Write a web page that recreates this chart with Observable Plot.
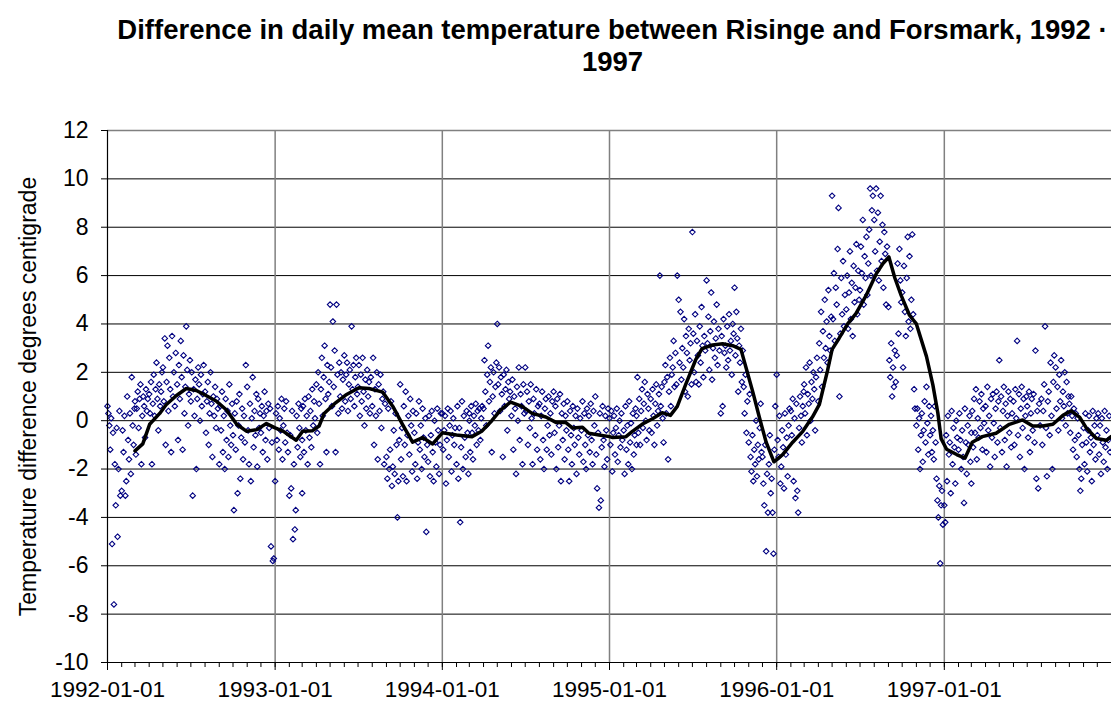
<!DOCTYPE html>
<html><head><meta charset="utf-8">
<script src="https://cdn.jsdelivr.net/npm/d3@7"></script>
<script src="https://cdn.jsdelivr.net/npm/@observablehq/plot@0.6"></script>
<style>
body{margin:0;background:#fff;font-family:"Liberation Sans",Arial,sans-serif;}
#title{width:1111px;height:95px;box-sizing:border-box;padding-top:14px;padding-left:114px;text-align:center;font-weight:bold;font-size:27.5px;line-height:32px;color:#000}
#chart svg{display:block}
</style></head>
<body>
<div id="title"><div>Difference in daily mean temperature between Risinge and Forsmark, 1992 ·</div><div>1997</div></div>
<div id="chart"></div>
<script>
// Daily differences sampled every second day (days 1,3,...,29 of each month), one row per month
const years = [1992, 1993, 1994, 1995, 1996, 1997];
const values1992 = [
 0.6,0.3,-0.2,-1.2,0.1,-5.1,-0.5,-7.6,-1.8,-3.5,-0.3,-4.8,-2.0,0.4,-3.1,
 -2.9,-0.4,-1.3,0.2,-3.1,-2.5,1.0,-0.8,-1.6,0.3,-2.2,1.8,-0.2,-1.0,0.5,
 0.8,-1.4,0.5,1.2,-0.3,0.9,1.5,-1.8,0.2,1.0,0.6,-0.7,1.3,0.4,0.9,
 1.1,0.3,1.6,-1.8,0.7,1.9,0.2,1.3,2.4,0.9,-0.4,1.5,0.6,1.2,2.0,
 2.2,0.8,3.4,-1.0,1.6,3.1,0.4,2.6,1.3,-1.3,3.5,1.0,2.0,0.6,2.8,
 1.5,-0.8,2.3,0.9,3.3,1.8,-1.2,2.7,0.3,1.4,3.9,2.1,-0.2,1.1,2.5,
 0.8,2.0,-3.1,1.3,0.2,1.7,-2.0,0.9,2.2,1.5,0.0,1.9,0.6,1.1,2.3,
 1.2,-0.5,0.8,1.6,-1.0,0.3,2.0,0.7,-1.5,1.0,0.2,1.4,-0.3,0.9,0.5,
 -1.8,0.6,-0.4,1.2,-1.3,0.2,-2.0,0.9,-0.8,0.4,-1.5,1.5,-0.2,-1.0,0.7,
 -0.6,-3.7,0.3,-1.2,0.8,-3.0,-0.2,1.1,-2.4,-0.7,0.5,-1.6,0.2,-0.9,2.3,
 1.4,-0.4,-1.8,0.7,-2.5,0.1,1.8,-1.1,0.4,-0.6,1.1,-1.9,0.9,-0.3,0.3,
 -0.5,0.6,-1.3,0.2,1.2,-0.8,0.4,-1.6,0.7,-0.3,0.5,-5.2,-0.9,-5.8,-5.7
];
const values1993 = [
 -2.5,0.3,-0.8,0.6,-1.2,0.1,-0.4,0.9,-1.6,-0.2,0.5,-0.9,0.8,-0.5,-1.3,
 -3.1,-0.6,-2.8,0.4,-4.9,-1.8,-4.5,-3.7,0.2,-1.1,0.7,-0.3,-1.5,0.5,-0.8,
 -3.0,0.6,-1.3,0.9,-0.4,0.2,-1.8,1.0,-0.7,0.4,-1.1,1.3,-0.2,0.8,0.1,
 1.5,-0.5,2.0,0.7,-1.8,1.3,2.6,0.2,1.8,3.1,0.9,-1.3,2.3,1.1,1.6,
 4.8,2.2,0.6,4.1,1.4,2.9,-1.3,4.8,1.9,0.3,2.4,1.0,2.0,0.5,1.7,
 2.7,0.8,1.9,2.4,0.4,1.5,2.1,0.9,3.9,1.3,2.3,0.6,1.8,2.6,1.1,
 1.4,2.3,0.2,1.9,0.8,2.6,1.2,-0.2,1.7,0.5,2.1,1.0,1.6,0.3,1.8,
 0.6,2.6,-1.0,1.3,0.2,2.0,-1.6,1.5,0.4,1.9,-0.3,0.9,1.2,-1.8,0.7,
 -1.5,-2.4,0.5,-2.0,-1.2,0.8,-2.7,-1.9,-0.4,-2.2,0.3,-1.0,-4.0,-2.5,-0.8,
 1.5,-1.6,-0.3,-2.3,0.6,-1.0,1.2,-2.5,-0.6,0.2,-1.4,0.9,-0.2,-2.1,0.4,
 -0.5,-1.8,0.3,-2.4,-0.9,0.8,-1.2,-0.2,-2.0,0.5,-0.7,-1.5,0.1,-4.6,-1.0,
 -1.7,0.2,-2.3,-0.6,0.4,-1.3,-2.5,0.0,-0.9,-1.9,0.5,-0.4,-2.2,-1.0,0.3
];
const values1994 = [
 0.3,-1.2,-0.4,0.2,-2.6,-0.8,0.5,-1.5,-0.2,0.4,-2.1,-0.6,0.1,-1.0,-0.3,
 -1.8,0.6,-2.4,-0.3,-4.2,-1.1,0.8,-2.0,0.2,-0.7,-1.5,0.4,-0.5,-2.2,0.0,
 0.3,-1.3,0.6,-0.5,-1.6,0.2,-0.2,0.7,-1.0,0.4,-0.4,0.5,-0.8,0.1,0.6,
 0.5,2.5,1.2,-0.2,1.9,3.1,0.8,1.6,2.2,-1.3,1.0,2.0,0.3,1.4,2.4,
 4.0,1.5,2.2,0.4,1.8,1.1,-1.5,1.9,0.6,1.3,2.1,-0.4,1.6,0.9,1.2,
 0.2,1.7,-1.2,1.0,0.5,-2.2,1.4,0.0,2.2,-0.8,1.1,0.6,-1.8,1.5,0.3,
 2.2,0.4,1.2,-1.0,0.8,-0.3,1.5,0.1,-1.8,0.9,0.3,-0.6,1.3,-1.2,0.6,
 0.7,-1.6,0.2,1.2,-0.8,-2.0,0.5,0.9,-1.2,-0.2,1.0,-0.6,0.3,-1.4,0.8,
 1.2,-0.5,0.6,-2.0,0.9,-1.1,-0.2,1.1,-2.5,0.3,-0.8,0.7,-1.6,0.2,-0.4,
 0.8,-1.2,-2.5,0.4,-0.6,-1.8,0.6,-0.3,-1.0,0.2,-2.2,0.5,-0.7,-1.4,0.1,
 -0.4,0.8,-1.7,0.3,-1.0,-2.0,0.5,-0.6,0.2,-1.3,0.7,-0.8,-1.8,0.4,-0.2,
 1.0,-1.4,-2.8,-0.5,-3.6,0.3,-3.3,-1.1,0.6,-0.8,-1.9,0.2,-0.4,-1.6,0.5
];
const values1995 = [
 0.1,-1.0,0.4,-2.1,-0.5,0.2,-1.4,-0.3,0.5,-1.7,-0.6,0.0,-1.1,0.3,-0.8,
 -0.4,-2.2,0.6,-1.2,-0.2,-1.8,0.8,-0.9,-0.1,-2.0,0.3,-1.4,-0.6,0.5,-1.0,
 0.2,1.8,-0.5,0.9,-1.0,0.4,1.3,-0.3,0.7,1.6,0.0,-0.8,1.1,0.5,-0.4,
 0.9,-0.5,1.3,0.2,-1.0,0.7,1.5,-0.2,0.4,1.1,6.0,0.6,1.4,0.1,-0.9,
 1.6,2.3,0.3,1.8,-1.6,1.2,2.6,0.6,1.9,2.2,3.3,1.4,2.8,1.5,6.0,
 5.0,2.4,4.5,1.7,3.0,2.2,4.2,1.2,3.5,2.8,1.0,3.8,2.5,3.2,1.5,
 7.8,3.6,2.0,4.4,1.6,3.3,2.7,1.5,3.9,2.4,4.7,3.1,1.8,3.5,2.9,
 5.8,3.2,4.3,2.1,3.7,5.3,1.7,3.0,4.1,2.6,3.4,4.8,2.3,3.8,2.9,
 0.3,3.5,0.6,4.2,2.8,3.1,2.2,3.9,2.5,4.4,2.9,3.3,1.9,4.0,3.6,
 5.5,2.7,4.5,3.4,1.2,3.1,2.4,3.8,1.6,2.9,1.4,0.3,1.9,-0.5,0.8,
 -0.9,1.1,-1.5,-2.1,-0.6,-2.5,-1.2,-1.8,0.0,-2.3,-1.0,-1.6,-0.3,0.7,-1.3,
 -1.5,-2.6,-3.5,-1.0,-5.4,-2.2,-3.8,-1.8,-0.6,-3.0,-2.4,-3.8,-5.5,-1.2,0.6
];
const values1996 = [
 1.9,-0.8,-1.5,0.2,-2.6,-1.9,-0.4,-1.1,-2.8,0.3,-1.4,-0.7,-2.3,-0.2,0.5,
 0.4,-0.6,0.9,-2.5,0.1,-3.2,0.7,-2.9,-3.8,-0.3,1.0,0.2,-0.9,0.6,1.2,
 1.5,0.3,2.2,-0.6,1.1,0.7,2.4,0.0,1.6,0.9,2.0,1.3,-0.4,1.8,2.6,
 0.8,3.2,2.1,4.5,1.4,3.7,2.6,5.0,3.0,4.1,2.4,5.4,3.5,2.9,4.3,
 9.3,4.2,6.1,3.3,5.5,4.8,7.1,8.8,1.0,3.6,5.9,4.4,6.6,3.9,5.2,
 4.6,6.0,3.8,5.3,7.0,4.2,5.7,3.5,6.4,4.9,5.5,7.3,4.4,6.2,5.0,
 5.4,7.2,6.1,8.3,4.8,6.8,5.9,7.6,5.2,6.5,7.9,9.6,6.0,8.7,9.3,
 8.3,7.0,9.6,6.2,8.6,5.8,7.4,9.3,6.6,8.1,5.5,7.8,6.9,4.8,7.2,
 4.7,2.5,1.8,3.2,1.0,2.2,1.4,2.9,1.6,2.7,6.5,3.6,7.1,5.8,4.9,
 5.3,2.2,6.4,4.5,3.5,5.9,7.6,4.1,6.8,3.8,5.0,7.7,4.4,1.3,0.5,
 -0.2,0.5,-1.2,0.1,-2.0,-0.6,0.3,-1.7,-0.4,0.8,-0.9,1.4,-0.1,-1.4,0.6,
 -0.6,0.2,-1.3,-0.4,-1.6,0.6,-0.9,-2.4,-3.3,-4.0,-2.7,-5.9,-3.5,-2.9,-4.3
];
const values1997 = [
 -3.5,-4.2,-0.6,-2.5,0.2,-1.4,-0.9,-3.0,0.4,-1.8,-0.3,-1.1,-2.6,0.0,-0.7,
 -1.2,0.3,-0.8,-2.0,-0.4,-1.5,-3.4,0.5,-0.9,-2.2,-0.2,-1.0,0.2,-1.7,-0.5,
 -2.6,0.4,-1.1,0.9,-0.5,1.3,-1.6,0.1,-0.7,0.8,-0.3,1.1,-1.2,0.5,-0.1,
 0.6,-1.3,1.4,-0.4,0.2,-1.9,0.9,-0.7,1.1,-0.1,-1.5,0.5,1.2,-0.9,0.8,
 2.5,-0.3,1.0,-1.3,0.4,1.4,-0.8,0.7,-1.9,0.2,1.2,-0.5,0.9,-1.1,0.3,
 0.8,-1.0,1.3,0.1,3.3,-0.6,1.1,-1.5,0.5,1.4,-0.3,0.9,-2.0,0.2,1.0,
 0.6,-0.7,1.2,-1.3,0.3,0.9,-0.4,1.1,-0.9,2.9,-2.4,0.4,-2.8,0.7,-0.2,
 0.9,-1.0,0.4,1.5,3.9,-0.3,-2.3,0.8,1.2,-0.6,2.4,0.2,-2.0,1.6,2.7,
 2.2,0.5,1.4,-0.4,1.9,0.8,2.5,0.1,1.2,0.6,2.0,-0.2,1.6,0.3,1.0,
 0.7,-0.5,1.0,0.2,-1.2,0.5,-0.8,0.3,-1.5,0.1,-0.6,-2.0,-2.9,-2.4,-1.0,
 -0.3,-1.8,0.3,-0.9,-2.1,-0.4,0.2,-1.3,-0.7,-2.5,0.4,-1.0,-0.2,-1.6,0.1,
 -0.6,0.3,-1.4,-0.2,-2.2,0.1,-0.9,-1.7,0.4,-1.1,-0.4,-2.0,-0.8,0.2,-1.3
];
const yearValues = [values1992, values1993, values1994, values1995, values1996, values1997];

// Smoothed (moving average) curve
const maDates = ["1992-03-01","1992-03-18","1992-04-02","1992-04-24","1992-05-08","1992-05-30","1992-06-21","1992-07-13","1992-08-04","1992-08-26","1992-09-17","1992-10-09","1992-10-31","1992-11-22","1992-12-13",
"1993-01-01","1993-01-19","1993-02-16","1993-03-02","1993-03-23","1993-04-07","1993-04-18","1993-05-13","1993-06-04","1993-07-03","1993-07-25","1993-08-24","1993-09-15","1993-10-06","1993-10-28","1993-11-19","1993-12-11",
"1994-01-01","1994-02-01","1994-03-07","1994-03-28","1994-04-19","1994-05-08","1994-05-30","1994-06-24","1994-07-16","1994-08-15","1994-09-06","1994-09-27","1994-10-12","1994-11-03","1994-11-17","1994-12-09",
"1995-01-01","1995-01-08","1995-02-06","1995-02-20","1995-03-13","1995-04-04","1995-04-26","1995-05-14","1995-05-29","1995-06-16","1995-07-08","1995-07-22","1995-08-14","1995-09-05","1995-09-27","1995-10-15","1995-10-26","1995-11-10","1995-11-24","1995-12-09","1995-12-26",
"1996-01-14","1996-02-05","1996-02-27","1996-03-19","1996-04-03","1996-04-21","1996-05-01","1996-05-16","1996-06-04","1996-06-22","1996-07-14","1996-08-05","1996-08-20","1996-09-02","1996-09-15","1996-09-29","1996-10-17","1996-11-01","1996-11-23","1996-12-07","1996-12-18","1996-12-25",
"1997-01-06","1997-01-28","1997-02-15","1997-03-03","1997-03-25","1997-04-24","1997-05-23","1997-06-21","1997-07-13","1997-08-04","1997-08-26","1997-09-17","1997-10-05","1997-10-23","1997-11-07","1997-11-29","1997-12-21","1997-12-31"];
const maValues = [-1.25,-0.96,-0.15,0.3,0.66,1.03,1.33,1.25,1.03,0.8,0.44,-0.15,-0.44,-0.37,-0.12,
-0.3,-0.44,-0.81,-0.44,-0.42,-0.22,0.3,0.74,1.06,1.36,1.33,1.18,0.59,-0.15,-0.89,-0.7,-0.96,
-0.5,-0.59,-0.66,-0.44,0.0,0.44,0.77,0.59,0.3,0.15,-0.07,-0.07,-0.3,-0.27,-0.52,-0.59,
-0.66,-0.7,-0.66,-0.44,-0.15,0.07,0.33,0.22,0.59,1.48,2.51,2.98,3.13,3.18,3.1,2.95,2.2,1.18,0.15,-0.89,-1.7,
-1.4,-0.89,-0.44,0.15,0.66,2.07,2.95,3.4,4.0,4.43,5.17,6.06,6.5,6.77,5.9,5.17,4.36,4.0,2.66,1.48,0.3,-0.74,
-1.18,-1.4,-1.55,-0.89,-0.66,-0.52,-0.15,0.03,-0.22,-0.22,-0.15,0.22,0.41,0.15,-0.3,-0.74,-0.81,-0.66];

const yTicks = [-10,-8,-6,-4,-2,0,2,4,6,8,10,12];
const yearTickLabels = ["1992-01-01","1993-01-01","1994-01-01","1995-01-01","1996-01-01","1997-01-01"];

const points = [];
yearValues.forEach((vals, k) => vals.forEach((v, i) => {
  points.push({date: new Date(Date.UTC(years[k], Math.floor(i / 15), 1 + 2 * (i % 15))), value: v});
}));
const ma = maDates.map((d, i) => ({date: new Date(d + "T00:00:00Z"), value: maValues[i]}));
const yearTicks = yearTickLabels.map(s => new Date(s + "T00:00:00Z"));
const monthTicks = d3.utcMonth.range(new Date(Date.UTC(1992,0,1)), new Date(Date.UTC(1998,0,1)));
const xStart = new Date(Date.UTC(1992,0,1)), xEnd = new Date(Date.UTC(1998,0,1));

const chart = Plot.plot({
  width: 1111, height: 609,
  marginTop: 35, marginBottom: 42, marginLeft: 107, marginRight: 0,
  style: {fontFamily: "'Liberation Sans', Arial, sans-serif", fontSize: "23px", color: "#000", background: "#fff", overflow: "visible"},
  x: {type: "utc", domain: [xStart, xEnd]},
  y: {domain: [-10, 12]},
  marks: [
    Plot.gridY(yTicks.filter(t => t > -10 && t < 12), {stroke: "#000", strokeOpacity: 1, strokeWidth: 1}),
    Plot.gridX(yearTicks.slice(1), {stroke: "#808080", strokeOpacity: 1, strokeWidth: 1.5}),
    Plot.ruleY([12], {stroke: "#808080", strokeWidth: 1.5}),
    Plot.dot(points, {x: "date", y: "value", symbol: "diamond2", r: 2.5, stroke: "#000080", strokeWidth: 1.1, fill: "none"}),
    Plot.line(ma, {x: "date", y: "value", stroke: "#000", strokeWidth: 3.5, curve: "linear"}),
    Plot.ruleX([xStart], {stroke: "#000", strokeWidth: 1.2}),
    Plot.ruleY([-10], {stroke: "#000", strokeWidth: 1.2}),
    Plot.axisY({ticks: yTicks, tickFormat: d => String(d), tickSize: 6, tickPadding: 13, label: "Temperature difference degrees centigrade", labelAnchor: "center", labelArrow: "none", labelOffset: 88}),
    Plot.axisX({ticks: monthTicks, tickFormat: () => "", tickSize: 5, label: null}),
    Plot.axisX({ticks: yearTicks, tickFormat: d3.utcFormat("%Y-%m-%d"), tickSize: 8, tickPadding: 11, fontSize: 22.5, label: null})
  ]
});
document.getElementById("chart").appendChild(chart);
</script>
</body></html>
